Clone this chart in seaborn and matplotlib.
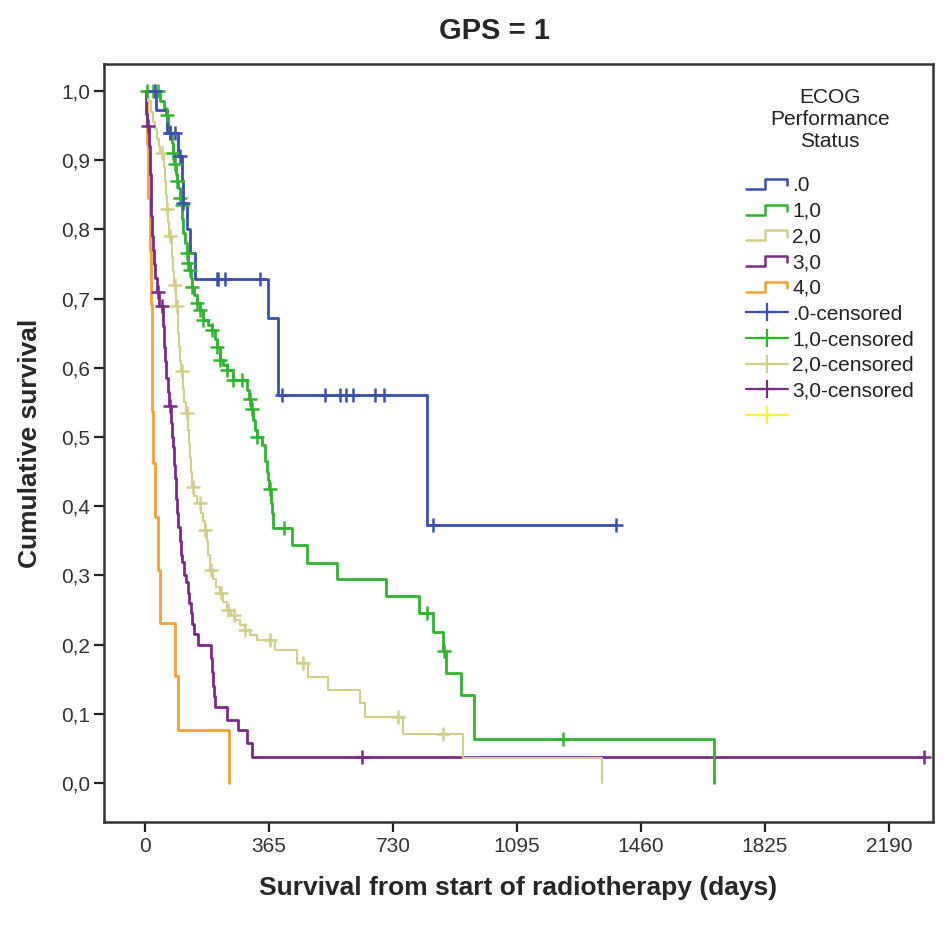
import numpy as np
import pandas as pd
import matplotlib
matplotlib.use("Agg")
import matplotlib.pyplot as plt
from matplotlib.lines import Line2D
from matplotlib.legend_handler import HandlerBase
import seaborn as sns

# ---------------- data (Kaplan-Meier step points) ----------------
groups = [".0", "1,0", "2,0", "3,0", "4,0"]

blue_t = [0, 33, 64, 97, 108, 112, 124, 132, 147, 362, 391, 830, 1387]
blue_s = [1.0, 0.973, 0.94, 0.906, 0.872, 0.838, 0.80, 0.766, 0.728, 0.672, 0.561, 0.373, 0.373]
blue_cens = [30, 74, 88, 103, 112, 212, 215, 236, 339, 403, 530, 574, 592, 612, 677, 704, 848, 1387]

green_t = [0, 45, 55, 62, 68, 72, 78, 82, 86, 90, 94, 98, 102, 106, 110, 112, 118, 124, 127, 132,
           135, 138, 145, 153, 162, 171, 185, 197, 205, 212, 221, 230, 241, 259, 300, 306, 312,
           318, 325, 329, 345, 352, 358, 362, 366, 370, 374, 377, 433, 477, 565, 709, 807, 848,
           877, 885, 930, 969, 1675]
green_s = [1.0, 0.985, 0.975, 0.965, 0.95, 0.94, 0.925, 0.91, 0.895, 0.88, 0.87, 0.86, 0.845,
           0.835, 0.815, 0.795, 0.78, 0.766, 0.751, 0.741, 0.73, 0.717, 0.705, 0.694, 0.684,
           0.669, 0.662, 0.655, 0.642, 0.630, 0.611, 0.604, 0.597, 0.582, 0.568, 0.555, 0.54,
           0.525, 0.51, 0.50, 0.488, 0.465, 0.45, 0.438, 0.425, 0.405, 0.39, 0.368, 0.344,
           0.318, 0.295, 0.270, 0.245, 0.218, 0.19, 0.159, 0.127, 0.064, 0.0]
green_cens = [5, 24, 38, 64, 74, 82, 88, 94, 103, 109, 124, 127, 132, 138, 153, 162, 171, 197,
              212, 221, 241, 259, 285, 309, 315, 329, 368, 409, 830, 880, 1231]

yellow_t = [0, 10, 18, 24, 29, 35, 40, 45, 55, 58, 61, 64, 68, 71, 78, 82, 85, 91, 97, 100, 103,
            106, 112, 116, 120, 126, 129, 132, 135, 138, 145, 152, 165, 170, 177, 181, 185, 191,
            200, 210, 221, 230, 241, 253, 265, 280, 294, 310, 329, 383, 447, 480, 539, 633, 648,
            760, 937, 1345]
yellow_s = [1.0, 0.985, 0.97, 0.955, 0.945, 0.93, 0.92, 0.91, 0.89, 0.87, 0.85, 0.83, 0.81, 0.79,
            0.76, 0.74, 0.72, 0.69, 0.65, 0.63, 0.61, 0.595, 0.57, 0.55, 0.535, 0.51, 0.49, 0.47,
            0.45, 0.428, 0.415, 0.405, 0.39, 0.378, 0.366, 0.35, 0.33, 0.308, 0.295, 0.283,
            0.274, 0.262, 0.25, 0.243, 0.236, 0.228, 0.221, 0.214, 0.207, 0.192, 0.173, 0.153,
            0.134, 0.115, 0.095, 0.071, 0.036, 0.0]
yellow_cens = [50, 65, 74, 88, 94, 109, 123, 141, 162, 177, 194, 224, 244, 262, 294, 368, 465,
               745, 877]

purple_t = [0, 2, 5, 12, 14, 16, 18, 20, 22, 26, 30, 34, 40, 52, 55, 58, 62, 66, 70, 75, 78, 82,
            85, 88, 91, 94, 98, 102, 106, 110, 115, 120, 125, 130, 134, 138, 145, 155, 195, 198,
            200, 203, 206, 241, 274, 300, 315, 2294]
purple_s = [1.0, 0.967, 0.95, 0.92, 0.88, 0.85, 0.82, 0.79, 0.77, 0.75, 0.73, 0.71, 0.69, 0.66,
            0.63, 0.61, 0.585, 0.565, 0.545, 0.52, 0.50, 0.486, 0.46, 0.44, 0.41, 0.39, 0.37,
            0.35, 0.33, 0.32, 0.30, 0.29, 0.275, 0.26, 0.245, 0.23, 0.215, 0.20, 0.18, 0.16,
            0.14, 0.125, 0.11, 0.091, 0.077, 0.058, 0.038, 0.038]
purple_cens = [9, 38, 50, 74, 639, 2294]

orange_t = [0, 5, 9, 13, 16, 19, 21, 22, 30, 37, 44, 88, 97, 246]
orange_s = [1.0, 0.923, 0.846, 0.769, 0.692, 0.615, 0.538, 0.462, 0.385, 0.308, 0.231, 0.154,
            0.077, 0.0]
orange_cens = []

y_ticks = [0.0, 0.1, 0.2, 0.3, 0.4, 0.5, 0.6, 0.7, 0.8, 0.9, 1.0]
y_tick_labels = ["0,0", "0,1", "0,2", "0,3", "0,4", "0,5", "0,6", "0,7", "0,8", "0,9", "1,0"]
x_ticks = [0, 365, 730, 1095, 1460, 1825, 2190]

colors = ["#3a4fb0", "#2fb42f", "#d2cf88", "#7b2a86", "#f7a032"]
cens_extra_color = "#f5f52a"
lws = [2.0, 2.0, 1.5, 2.0, 2.0]

curves = [(blue_t, blue_s, blue_cens), (green_t, green_s, green_cens),
          (yellow_t, yellow_s, yellow_cens), (purple_t, purple_s, purple_cens),
          (orange_t, orange_s, orange_cens)]

# ---------------- figure ----------------
sns.set_style("white")
plt.rcParams["font.family"] = ["Liberation Sans", "DejaVu Sans"]

W, H = 945, 927
fig = plt.figure(figsize=(W / 100, H / 100), dpi=100)
L, R, T, B = 104, 933, 64, 822
ax = fig.add_axes([L / W, 1 - B / H, (R - L) / W, (B - T) / H])

# drawing order: orange at bottom ... blue on top
order = [4, 3, 2, 1, 0]
for gi in order:
    t, s, c = curves[gi]
    df = pd.DataFrame({"time": t, "surv": s})
    sns.lineplot(data=df, x="time", y="surv", ax=ax, color=colors[gi], lw=lws[gi],
                 drawstyle="steps-post", estimator=None, sort=False, legend=False)
    if len(c):
        tt = np.asarray(t)
        ss = np.asarray(s)
        idx = np.searchsorted(tt, np.asarray(c), side="right") - 1
        cdf = pd.DataFrame({"time": c, "surv": ss[idx]})
        sns.scatterplot(data=cdf, x="time", y="surv", ax=ax, marker="+", s=90,
                        color=colors[gi], linewidth=1.8, legend=False, zorder=3)

ax.set_xlim(-121, 2320)
ax.set_ylim(-0.0564, 1.039)
ax.set_xticks(x_ticks)
ax.set_xticklabels([str(v) for v in x_ticks])
ax.set_yticks(y_ticks)
ax.set_yticklabels(y_tick_labels)
ax.tick_params(axis="both", direction="out", length=7, width=1.6, color="#222222",
               labelsize=15, labelcolor="#333333", pad=3)
ax.tick_params(axis="x", bottom=True, pad=4)
ax.tick_params(axis="y", left=True)
for sp in ax.spines.values():
    sp.set_color("#333333")
    sp.set_linewidth(1.8)

ax.set_xlabel("Survival from start of radiotherapy (days)", fontsize=19, fontweight="bold",
              labelpad=14)
ax.set_ylabel("Cumulative survival", fontsize=19, fontweight="bold", labelpad=14)

fig.text(494 / W, 1 - 31 / H, "GPS = 1", ha="center", va="center", fontsize=21,
         fontweight="bold")


# ---------------- legend ----------------
class StepHandler(HandlerBase):
    def create_artists(self, legend, orig_handle, xdescent, ydescent, width, height,
                       fontsize, trans):
        x0, y0 = -xdescent, -ydescent
        xs = [x0, x0 + 0.45 * width, x0 + 0.45 * width, x0 + 0.97 * width, x0 + 0.97 * width]
        ys = [y0 + 0.15 * height, y0 + 0.15 * height, y0 + 0.85 * height, y0 + 0.85 * height,
              y0 + 0.4 * height]
        ln = Line2D(xs, ys, color=orig_handle.get_color(), lw=orig_handle.get_linewidth())
        ln.set_transform(trans)
        return [ln]


step_handles = [Line2D([], [], color=colors[i], lw=1.8) for i in range(5)]
cens_colors = colors[:4] + [cens_extra_color]
cens_handles = [Line2D([], [], color=cc, lw=1.6, marker="+", markersize=13, mew=1.6)
                for cc in cens_colors]
labels = groups + [g + "-censored" for g in groups[:4]] + [""]
hmap = {h: StepHandler() for h in step_handles}
leg = ax.legend(step_handles + cens_handles, labels, handler_map=hmap,
                title="ECOG\nPerformance\nStatus", title_fontsize=15, fontsize=15,
                frameon=False, loc="upper left",
                bbox_to_anchor=((738 - L) / (R - L), (B - 80) / (B - T)),
                handlelength=2.0, handletextpad=0.2, labelspacing=0.32, numpoints=1,
                borderaxespad=0)
leg._legend_box.sep = 18
leg.get_title().set_multialignment("center")
leg.get_title().set_color("#222222")
for txt in leg.get_texts():
    txt.set_color("#222222")

fig.savefig("out.png", dpi=100)
